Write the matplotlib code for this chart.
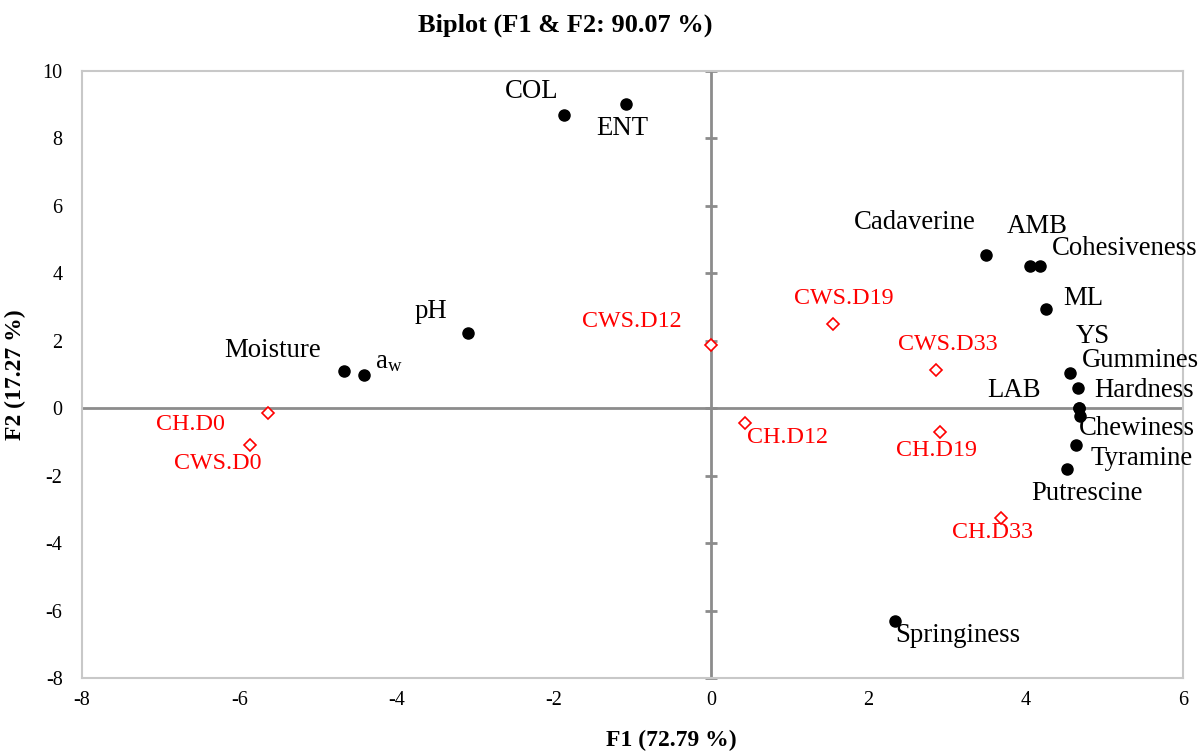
import matplotlib
matplotlib.use("Agg")
import matplotlib.pyplot as plt
import numpy as np

plt.rcParams.update({
    "font.family": "Liberation Serif",
    "mathtext.fontset": "custom",
    "mathtext.rm": "Liberation Serif",
    "mathtext.it": "Liberation Serif:italic",
    "axes.unicode_minus": False,
})

# ---------------------------------------------------------------------------
# Data
# ---------------------------------------------------------------------------
var_names = ["COL", "ENT", "Cadaverine", "AMB", "Cohesiveness", "ML", "YS",
             "Hardness", "LAB", "Gummines", "Chewiness", "Tyramine",
             "Putrescine", "Springiness", "pH", "Moisture", r"a$_\mathrm{w}$"]
var_f1 = [-1.87, -1.08, 3.50, 4.05, 4.18, 4.26, 4.56,
          4.66, 4.68, 4.68, 4.69, 4.64,
          4.53, 2.34, -3.09, -4.67, -4.41]
var_f2 = [8.69, 9.02, 4.54, 4.21, 4.21, 2.94, 1.05,
          0.59, 0.02, 0.02, -0.24, -1.10,
          -1.79, -6.31, 2.22, 1.11, 0.98]

obs_names = ["CH.D0", "CWS.D0", "CWS.D12", "CWS.D19", "CWS.D33",
             "CH.D12", "CH.D19", "CH.D33"]
obs_f1 = [-5.63, -5.86, 0.00, 1.55, 2.86, 0.43, 2.91, 3.69]
obs_f2 = [-0.15, -1.10, 1.87, 2.51, 1.12, -0.43, -0.71, -3.25]

x_ticks = [-8, -6, -4, -2, 0, 2, 4, 6]
y_ticks = [-8, -6, -4, -2, 0, 2, 4, 6, 8, 10]

# label placement, offset from point in pixels (dx right, dy up)
var_offsets = {
    "COL": (-32, 24), "ENT": (-4, -24), "Cadaverine": (-72, 33),
    "AMB": (8, 40), "Cohesiveness": (85, 18), "ML": (37, 11),
    "YS": (23, 36), "Hardness": (66, -2), "LAB": (-65, 17),
    "Gummines": (61, 47), "Chewiness": (57, -12), "Tyramine": (66, -13),
    "Putrescine": (20, -25), "Springiness": (63, -14), "pH": (-37, 22),
    "Moisture": (-71, 20), r"a$_\mathrm{w}$": (24, 14),
}
obs_offsets = {
    "CH.D0": (-78, -11), "CWS.D0": (-33, -18), "CWS.D12": (-79, 24),
    "CWS.D19": (11, 25), "CWS.D33": (12, 26), "CH.D12": (43, -15),
    "CH.D19": (-3, -18), "CH.D33": (-9, -15),
}

# ---------------------------------------------------------------------------
# Figure
# ---------------------------------------------------------------------------
fig = plt.figure(figsize=(12.01, 7.53), dpi=100)
ax = fig.add_axes([0.0683, 0.0996, 0.9167, 0.8061])

ax.set_xlim(-8, 6)
ax.set_ylim(-8, 10)
ax.set_xticks(x_ticks)
ax.set_yticks(y_ticks)
ax.tick_params(length=0, labelsize=14.5)
ax.tick_params(axis="x", pad=9)
ax.tick_params(axis="y", pad=14)
for s in ax.spines.values():
    s.set_color("#C8C8C8")
    s.set_linewidth(1.5)

# central axes, cross ticks only on the vertical one
ax.axhline(0, color="#8C8C8C", lw=2, zorder=1)
ax.axvline(0, color="#8C8C8C", lw=2, zorder=1)
ax.plot(np.zeros(len(y_ticks)), y_ticks, ls="none", marker="_",
        ms=9, mew=2, color="#8C8C8C", zorder=1, clip_on=False)

ax.plot(var_f1, var_f2, ls="none", marker="o", ms=8, color="black", zorder=3)
ax.plot(obs_f1, obs_f2, ls="none", marker="D", ms=6.5, mfc="white",
        mec="red", mew=1.2, zorder=3)

k = 0.72  # px -> pt
for name, x, y in zip(var_names, var_f1, var_f2):
    dx, dy = var_offsets[name]
    ax.annotate(name, (x, y), xytext=(dx * k, dy * k), textcoords="offset points",
                ha="center", va="center", fontsize=19.3, color="black",
                annotation_clip=False)
for name, x, y in zip(obs_names, obs_f1, obs_f2):
    dx, dy = obs_offsets[name]
    ax.annotate(name, (x, y), xytext=(dx * k, dy * k), textcoords="offset points",
                ha="center", va="center", fontsize=17.3, color="red",
                annotation_clip=False)

fig.text(0.471, 0.967, "Biplot (F1 & F2: 90.07 %)", ha="center", va="center",
         fontsize=19, fontweight="bold")
ax.set_xlabel("F1 (72.79 %)", fontsize=17, fontweight="bold")
ax.xaxis.set_label_coords(0.5355, -0.085)
ax.set_ylabel("F2 (17.27 %)", fontsize=17, fontweight="bold")
ax.yaxis.set_label_coords(-0.051, 0.5)

fig.savefig("out.png", dpi=100)
